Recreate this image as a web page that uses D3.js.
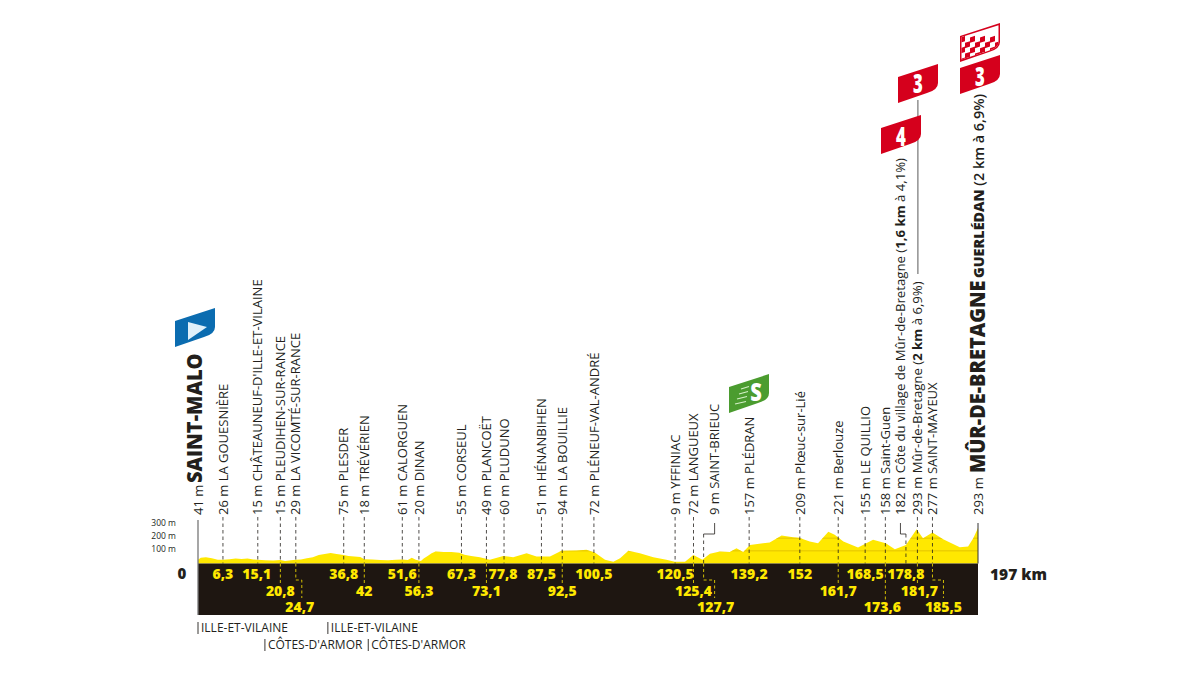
<!DOCTYPE html>
<html><head><meta charset="utf-8">
<script src="https://cdn.jsdelivr.net/npm/d3@7/dist/d3.min.js"></script>
<style>html,body{margin:0;padding:0;background:#fff}svg{display:block}text{font-family:"Open Sans",sans-serif}</style>
</head><body><svg id="c" width="1200" height="675"></svg>
<script>
// ---- data ----
const profileKm  = [0,0.7,2,3.5,5,6.3,8,9.5,11,12.5,14,15.1,17,19,20.8,22,23.5,24.7,26,27.5,29,30.5,32,33.5,35,36.8,38,39.5,41,42,44,46,48,50,51.6,53,54,55,56.3,57,58,59,60,62,64,66,67.3,69,71.2,73.7,77.1,79.6,83,85.5,88.9,91.8,95.6,98.1,100.2,102.8,104.9,106.6,108.7,111.6,115,118.3,120.4,123,125.1,127.4,129.3,131.8,134.3,136,137.7,139.4,142.7,144.4,147.4,150.3,151.8,154.5,156.6,159.2,160.8,163,166.7,170.5,173.7,176,178.8,181.5,183.1,185.5,188.2,192.4,194.5,195.8,197];
const profileEle = [30,45,50,42,30,30,34,40,36,40,32,30,26,24,28,20,26,30,32,42,50,68,75,82,75,68,60,56,52,34,32,28,25,30,32,28,45,30,20,40,60,80,95,90,90,85,70,60,50,30,60,50,80,55,55,100,103,108,87,30,13,42,100,80,50,30,13,13,68,30,76,95,90,120,90,147,160,165,221,208,203,174,160,250,226,174,126,187,160,113,147,271,200,245,192,129,134,200,280];
const placeKm   = [0,6.3,15.1,20.8,24.7,36.8,42,51.6,56.3,67.3,73.1,77.8,87.5,92.5,100.5,120.5,125.4,127.7,139.2,152,161.7,168.5,173.6,178.8,181.7,185.5,197];
const placeEle  = [41,26,15,15,29,75,18,61,20,55,49,60,51,94,72,9,72,9,157,209,221,155,158,182,293,277,293];
const placeName = ["SAINT-MALO","LA GOUESNIÈRE","CHÂTEAUNEUF-D'ILLE-ET-VILAINE","PLEUDIHEN-SUR-RANCE","LA VICOMTÉ-SUR-RANCE","PLESDER","TRÉVÉRIEN","CALORGUEN","DINAN","CORSEUL","PLANCOËT","PLUDUNO","HÉNANBIHEN","LA BOUILLIE","PLÉNEUF-VAL-ANDRÉ","YFFINIAC","LANGUEUX","SAINT-BRIEUC","PLÉDRAN","Plœuc-sur-Lié","Berlouze","LE QUILLIO","Saint-Guen","Côte du village de Mûr-de-Bretagne","Mûr-de-Bretagne","SAINT-MAYEUX","MÛR-DE-BRETAGNE"];
const placeRow  = [0,1,1,2,3,1,2,1,2,1,2,1,1,2,1,1,2,3,1,1,2,1,3,1,2,3,0];
const kmLabels  = ["6,3","15,1","20,8","24,7","36,8","42","51,6","56,3","67,3","73,1","77,8","87,5","92,5","100,5","120,5","125,4","127,7","139,2","152","161,7","168,5","173,6","178,8","181,7","185,5"];
const eleTicks  = [100,200,300];
const deptNames = ["ILLE-ET-VILAINE","CÔTES-D'ARMOR","ILLE-ET-VILAINE","CÔTES-D'ARMOR"];
const deptKm    = [0,16.9,32.8,43];
const deptRow   = [0,1,0,1];
const totalKm   = 197;

// ---- layout ----
const x = d3.scaleLinear().domain([0,totalKm]).range([198,978]);
const y = d3.scaleLinear().domain([0,300]).range([563.5,525.5]);
const YEL="#ffe800", DARK="#1e1611", INK="#231f1c", RED="#d5001c";
const bandBottom=615, labelBase=515, SX=1;
const svg=d3.select("#c");
const defs=svg.append("defs");

// profile
const area=d3.area().x((d,i)=>x(profileKm[i])).y0(y(0)).y1(d=>y(d));
svg.append("path").attr("d",area(profileEle)).attr("fill",YEL);
defs.append("clipPath").attr("id","pc").append("path").attr("d",area(profileEle));
const grid=svg.append("g").attr("clip-path","url(#pc)");
grid.selectAll("line").data([100,200]).join("line")
  .attr("x1",x(0)).attr("x2",x(totalKm)).attr("y1",d=>y(d)).attr("y2",d=>y(d))
  .attr("stroke","#d9b400").attr("stroke-width",.7);

// band
svg.append("rect").attr("x",x(0)).attr("y",y(0)).attr("width",x(totalKm)-x(0)).attr("height",bandBottom-y(0)).attr("fill",DARK);
svg.append("line").attr("x1",x(0)).attr("x2",x(0)).attr("y1",labelBase+5).attr("y2",bandBottom).attr("stroke","#777").attr("stroke-width",1.3);
svg.append("line").attr("x1",x(totalKm)).attr("x2",x(totalKm)).attr("y1",labelBase+8).attr("y2",y(0)).attr("stroke","#333").attr("stroke-width",1);

// elevation axis
const ax=svg.append("g").attr("transform",`translate(176,-2.5)`)
  .call(d3.axisLeft(y).tickValues(eleTicks).tickSize(0).tickPadding(0).tickFormat(d=>d+" m"));
ax.select(".domain").remove();
ax.selectAll("text").attr("font-size",8.5).attr("fill",INK).attr("font-family",'"Open Sans"');

// row helpers
const rowY=r=>574+(r-1)*16.6;
const rowLineEnd=[0,0,583,600];
const bandElbow={4:6,17:11,25:11};          // place index -> sideways step in the dark band
const topElbow={17:11,23:-5.5};             // place index -> sideways step above the profile
const drawNudge={8:-2,9:-3,10:-1,11:-2,12:-3,13:-2,14:-2,16:-1}; // the source map's ticks drift from a true linear scale
const numShift={2:-1,4:-2,11:-1,17:1,22:-3,24:2};
const px0=i=>x(placeKm[i])+(drawNudge[i]||0);

// dashed ticks
const ticks=svg.append("g");
placeKm.forEach((k,i)=>{
  if(i===0||i===placeKm.length-1) return;
  const px=px0(i), te=topElbow[i];
  if(te!==undefined){
    ticks.append("path").attr("d",`M${px+te},${labelBase+8}V${labelBase+19}H${px}`).attr("fill","none").attr("stroke",INK).attr("stroke-width",.8);
    ticks.append("line").attr("x1",px).attr("x2",px).attr("y1",labelBase+19).attr("y2",y(0)).attr("stroke",INK).attr("stroke-width",.8).attr("stroke-dasharray","3.5 3");
  } else {
    ticks.append("line").attr("x1",px).attr("x2",px).attr("y1",labelBase+2).attr("y2",y(0)).attr("stroke",INK).attr("stroke-width",.8).attr("stroke-dasharray","3.5 3");
  }
  const r=placeRow[i];
  if(r>1){
    const el=bandElbow[i];
    const path= el? `M${px},${y(0)}V580H${px+el}V${rowLineEnd[r]-2}` : `M${px},${y(0)}V${rowLineEnd[r]}`;
    ticks.append("path").attr("d",path).attr("fill","none").attr("stroke",YEL).attr("stroke-width",.8).attr("stroke-dasharray","3 2.5");
  }
});

// km numbers
svg.append("g").selectAll("text").data(kmLabels).join("text")
  .attr("x",(d,i)=>px0(i+1)+(bandElbow[i+1]||0)+(numShift[i+1]||0))
  .attr("y",(d,i)=>rowY(placeRow[i+1]))
  .attr("dy",".36em").attr("text-anchor","middle").attr("fill",YEL)
  .attr("font-size",14).attr("font-weight",800).text(d=>d);

// rotated labels
function rot(px,py,fs,sx){return svg.append("text").attr("transform",`translate(${px},${py}) rotate(-90) scale(${sx||SX},1)`).attr("dy",".36em").attr("font-size",fs).attr("fill",INK);}
placeKm.forEach((k,i)=>{
  const px=px0(i)+(topElbow[i]||0), t=rot(px,labelBase,13,(i===23||i===24)?1.015:1);
  if(i===0||i===placeKm.length-1){
    t.text(placeEle[i]+" m");
    return;
  }
  t.append("tspan").text(placeEle[i]+" m "+placeName[i]);
  if(i===23){t.append("tspan").text(" (");t.append("tspan").attr("font-weight",700).text("1,6 km");t.append("tspan").text(" à 4,1%)");}
  if(i===24){t.append("tspan").text(" (");t.append("tspan").attr("font-weight",700).text("2 km");t.append("tspan").text(" à 6,9%)");}
});
// start and finish titles
rot(x(0)-3.5,483,21,.955).attr("font-weight",800).text(placeName[0]);
rot(x(totalKm)-1,473,21,.95).attr("font-weight",800).text(placeName[26]);
const g2=rot(x(totalKm)+1,278,14,1.03);
g2.append("tspan").attr("font-weight",800).text("GUERLÉDAN");
g2.append("tspan").attr("font-weight",600).text(" (2 km à 6,9%)");

// end labels
svg.append("text").attr("x",182).attr("y",574).attr("dy",".36em").attr("text-anchor","middle").attr("font-size",15).attr("font-weight",800).attr("fill",INK).text("0");
svg.append("text").attr("x",990).attr("y",574).attr("dy",".36em").attr("font-size",15.5).attr("font-weight",800).attr("fill",INK).text(totalKm+" km");

// departments
svg.append("g").selectAll("g").data(deptNames).join("g").each(function(d,i){
  const g=d3.select(this), px=x(deptKm[i]), py=628+deptRow[i]*17;
  g.append("line").attr("x1",px).attr("x2",px).attr("y1",py-6).attr("y2",py+6).attr("stroke",INK).attr("stroke-width",.9);
  g.append("text").attr("x",px+3).attr("y",py).attr("dy",".36em").attr("font-size",12).attr("fill",INK).text(d);
});

// flags
const flagPath="M0,0V-26L40,-39V-20Q40,-13 29,-10Z";
function flag(px,py,col){return svg.append("g").attr("transform",`translate(${px},${py})`).call(g=>g.append("path").attr("d",flagPath).attr("fill",col));}
svg.append("line").attr("x1",x(181.7)+.5).attr("x2",x(181.7)+.5).attr("y1",100).attr("y2",274).attr("stroke","#444").attr("stroke-width",.9);
[[898,103,"3",-20],[881,154,"4",-18],[960,94,"3",-18]].forEach(([px,py,s,dy])=>{
  flag(px,py,RED).append("text").attr("transform",`translate(20,${dy}) scale(.62,1)`).attr("dy",".36em").attr("text-anchor","middle").attr("fill","#fff").attr("font-size",27).attr("font-weight",800).text(s);
});
// checkered flag
const ck=flag(960,62,RED);
const ckPath="M1.5,-2.5V-25L38.5,-36.8V-20Q38.5,-14 28,-11Z";
defs.append("clipPath").attr("id","cc").append("path").attr("d",ckPath);
ck.append("path").attr("d",ckPath).attr("fill","#fff");
const cells=d3.cross(d3.range(8),d3.range(5)).filter(([a,b])=>(a+b)%2===0);
ck.append("g").attr("clip-path","url(#cc)").selectAll("rect").data(cells).join("rect")
  .attr("width",5).attr("height",5.4).attr("fill",RED)
  .attr("transform",([a,b])=>`matrix(1,-0.325,0,1,${a*5},${-b*5.4-3})`);
// blue start flag
flag(175,347,"#0b6cb0").append("path").attr("d","M13,-25L32,-20L13,-7Z").attr("fill","#dff0fa");
// green sprint flag
const gf=flag(729,413,"#4b9c2f");
gf.append("text").attr("transform","translate(27,-21) scale(.8,1)").attr("dy",".36em").attr("text-anchor","middle").attr("fill","#fff").attr("font-size",25).attr("font-weight",800).text("S");
gf.selectAll("line").data([-24,-19,-14,-9]).join("line").attr("x1",(d,i)=>12-i*2).attr("x2",(d,i)=>20-i*1).attr("y1",d=>d).attr("y2",d=>d-2.5).attr("stroke","#d6f0c8").attr("stroke-width",1.1);
</script></body></html>
